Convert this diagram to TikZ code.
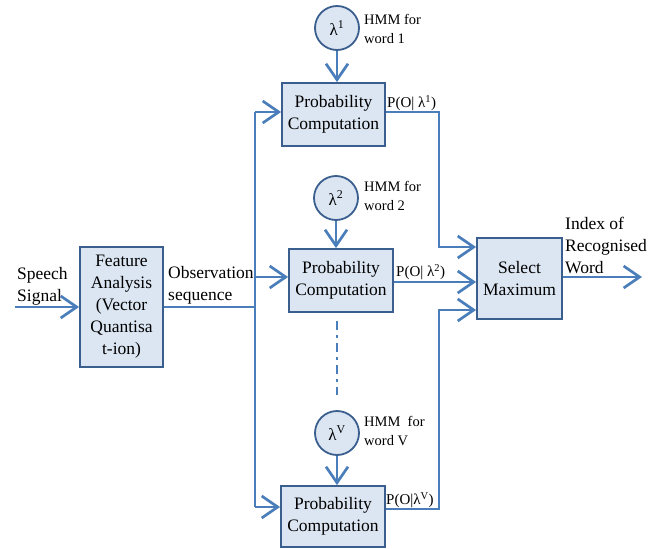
\documentclass[tikz,border=0pt]{standalone}
\usepackage{fontspec}
\setmainfont{Liberation Serif}
\usetikzlibrary{arrows.meta}
\definecolor{ln}{HTML}{4A7EBB}
\definecolor{bd}{HTML}{3A5F8F}
\definecolor{bf}{HTML}{DCE6F2}
\begin{document}
\begin{tikzpicture}[x=1pt,y=-1pt,
  box/.style={draw=bd,fill=bf,line width=1.8pt,rectangle,inner sep=0pt,align=center,
    font=\fontsize{17.5}{22}\selectfont},
  hmm/.style={draw=bd,fill=bf,line width=1.8pt,circle,minimum size=44pt,inner sep=0pt,
    font=\fontsize{17}{20}\selectfont},
  wire/.style={draw=ln,line width=2.7pt},
  arr/.style={wire,-{Straight Barb[length=16pt,width=22pt,line width=2.7pt]}},
  lab/.style={inner sep=0pt,align=left,font=\fontsize{17.5}{22}\selectfont},
  slab/.style={inner sep=0pt,align=left,font=\fontsize{14.5}{19.5}\selectfont},
  plab/.style={inner sep=0pt,align=left,font=\fontsize{15}{18}\selectfont}]
\useasboundingbox (0,0) rectangle (662,549);
% boxes
\node[box,minimum width=83pt,minimum height=120pt] (fa) at (121.5,307) {Feature\\Analysis\\(Vector\\Quantisa\\t-ion)};
\node[box,minimum width=103pt,minimum height=63pt] (p1) at (333.5,114.5) {Probability\\Computation};
\node[box,minimum width=104pt,minimum height=63pt] (p2) at (341,280.5) {Probability\\Computation};
\node[box,minimum width=104pt,minimum height=61pt] (pV) at (333,516.5) {Probability\\Computation};
\node[box,minimum width=85pt,minimum height=81pt] (sel) at (519.5,278.5) {Select\\Maximum};
% circles
\node[hmm] (c1) at (337,28) {λ\textsuperscript{1}};
\node[hmm] (c2) at (336,198) {λ\textsuperscript{2}};
\node[hmm] (cV) at (337,433) {λ\textsuperscript{V}};
% labels
\node[slab,anchor=west] (h1) at (364,29) {HMM for\\word 1};
\node[slab,anchor=west] (h2) at (364,196) {HMM for\\word 2};
\node[slab,anchor=west] (hV) at (364,431) {HMM\ \ for\\word V};
\node[plab,anchor=south west] (l1) at (387,111) {P(O| λ\textsuperscript{1})};
\node[plab,anchor=south west] (l2) at (396,280) {P(O| λ\textsuperscript{2})};
\node[plab,anchor=south west] (lV) at (386,508) {P(O|λ\textsuperscript{V})};
\node[lab,anchor=west] (sp) at (17,286) {Speech\\Signal};
\node[lab,anchor=west] (ob) at (168,285) {Observation\\sequence};
\node[lab,anchor=west] (ix) at (565,245) {Index of\\Recognised\\Word};
% coordinates
\coordinate (in) at (15,307);
\coordinate (b1) at (255,112);
\coordinate (b2) at (255,277);
\coordinate (bV) at (255,507);
\coordinate (r1) at (439,112);
\coordinate (s1) at (439,247);
\coordinate (r2) at (393,282);
\coordinate (rV) at (439,509);
\coordinate (s3) at (439,310);
\coordinate (out) at (642,277);
\coordinate (d1) at (337,321);
\coordinate (d2) at (337,395);
% connectors
\draw[arr] (in) -- (fa.west |- in);
\draw[wire] (fa.east |- in) -- (in -| b1);
\draw[wire] (b1) -- (bV);
\draw[arr] (b1) -- (b1 -| p1.west);
\draw[arr] (b2) -- (b2 -| p2.west);
\draw[arr] (bV) -- (bV -| pV.west);
\draw[arr] (c1.south) -- (p1.north -| c1.south);
\draw[arr] (c2.south) -- (p2.north -| c2.south);
\draw[arr] (cV.south) -- (pV.north -| cV.south);
\draw[arr] (p1.east |- r1) -- (r1) -- (s1) -- (s1 -| sel.west);
\draw[arr] (p2.east |- r2) -- (r2 -| sel.west);
\draw[arr] (pV.east |- rV) -- (rV) -- (s3) -- (s3 -| sel.west);
\draw[arr] (sel.east |- out) -- (out);
\draw[draw=ln,line width=2.2pt,dash pattern=on 9pt off 5pt on 3pt off 5pt] (d1) -- (d2);
\end{tikzpicture}
\end{document}
